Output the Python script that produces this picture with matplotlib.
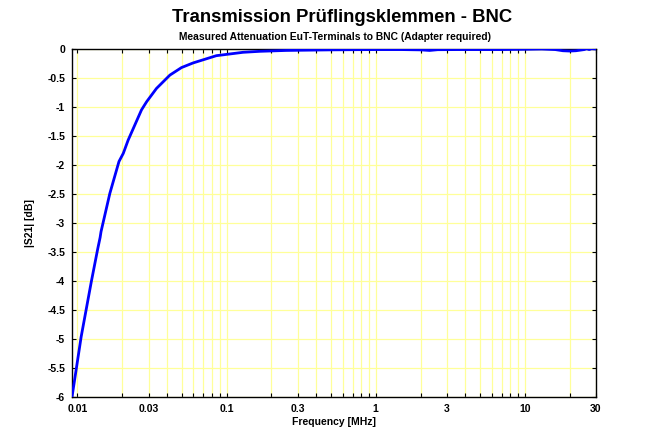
import numpy as np
import matplotlib
matplotlib.use("Agg")
import matplotlib.pyplot as plt
from matplotlib.ticker import FixedLocator, FixedFormatter, NullFormatter

# ---------- DATA ----------
freq_mhz = [0.0092, 0.0106, 0.0124, 0.0137, 0.0142, 0.0144, 0.0165, 0.0190,
            0.0203, 0.0219, 0.0269, 0.0291, 0.0339, 0.0417, 0.0499, 0.0597,
            0.0855, 0.129, 0.167, 0.25, 0.35, 0.5, 0.7, 1.0, 1.5, 2.0, 2.3,
            2.6, 3.5, 5, 7, 10, 13, 16, 18, 20, 22, 25, 26, 27, 28, 30]
s21_db = [-6.0, -4.96, -4.01, -3.44, -3.25, -3.15, -2.49, -1.94,
          -1.80, -1.57, -1.05, -0.91, -0.68, -0.45, -0.32, -0.24,
          -0.115, -0.057, -0.04, -0.025, -0.02, -0.015, -0.012, -0.01, -0.01,
          -0.015, -0.025, -0.012, -0.01, -0.01, -0.01, -0.005, 0.0, -0.01,
          -0.03, -0.035, -0.03, -0.01, 0.005, -0.01, 0.005, 0.0]

x_major = [0.01, 0.03, 0.1, 0.3, 1, 3, 10, 30]
x_major_labels = ["0.01", "0.03", "0.1", "0.3", "1", "3", "10", "30"]
y_ticks = [-6, -5.5, -5, -4.5, -4, -3.5, -3, -2.5, -2, -1.5, -1, -0.5, 0]
y_labels = ["-6", "-5.5", "-5", "-4.5", "-4", "-3.5", "-3", "-2.5", "-2",
            "-1.5", "-1", "-0.5", "0"]

# ---------- STYLE ----------
plt.rcParams['font.family'] = ['Liberation Sans', 'DejaVu Sans']
plt.rcParams['font.weight'] = 'bold'

fig = plt.figure(figsize=(6.5, 4.42), dpi=100)
ax = fig.add_axes([72 / 650, 1 - 397 / 442, (596 - 72) / 650, (397 - 49) / 442])

grid_col = '#ffff99'

ax.plot(freq_mhz, s21_db, color='#0000ff', linewidth=2, zorder=3)

ax.set_xscale('log')
ax.set_xlim(0.0092, 30)
ax.set_ylim(-6, 0)

minor = []
for dec in [0.01, 0.1, 1, 10]:
    for m in range(1, 10):
        v = dec * m
        if v <= 30 and not any(np.isclose(v, t) for t in x_major):
            minor.append(v)
ax.xaxis.set_major_locator(FixedLocator(x_major))
ax.xaxis.set_major_formatter(FixedFormatter(x_major_labels))
ax.xaxis.set_minor_locator(FixedLocator(minor))
ax.xaxis.set_minor_formatter(NullFormatter())
ax.set_yticks(y_ticks)
ax.set_yticklabels(y_labels)

ax.grid(True, which='both', axis='x', color=grid_col, linewidth=0.9, zorder=0)
ax.grid(True, which='major', axis='y', color=grid_col, linewidth=0.9, zorder=0)

ax.tick_params(which='both', direction='in', top=True, right=True,
               length=3, width=0.8, labelsize=7.5, pad=5)
for lbl in ax.get_xticklabels() + ax.get_yticklabels():
    lbl.set_fontweight('bold')
for sp in ax.spines.values():
    sp.set_linewidth(1.0)

ax.set_xlabel("Frequency [MHz]", fontsize=7.5, fontweight='bold', labelpad=2)
ax.set_ylabel("|S21| [dB]", fontsize=7.5, fontweight='bold', labelpad=9)

cx = (72 + 596) / 2 / 650
fig.text(cx + 0.012, 1 - 18 / 442, "Transmission Prüflingsklemmen - BNC",
         ha='center', va='center', fontsize=13.3, fontweight='bold')
fig.text(cx + 0.002, 1 - 37 / 442, "Measured Attenuation EuT-Terminals to BNC (Adapter required)",
         ha='center', va='center', fontsize=7.4, fontweight='bold')

fig.savefig("out.png", dpi=100)
